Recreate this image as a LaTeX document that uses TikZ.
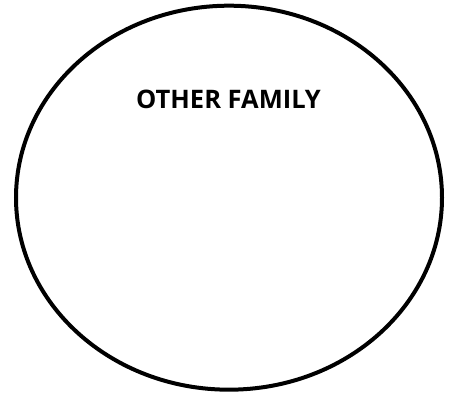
\documentclass[tikz,border=0pt]{standalone}
\usepackage{fontspec}
\setmainfont{Open Sans}
\usetikzlibrary{shapes.geometric}
\tikzset{ring/.style={draw=black,line width=4pt},
lbl/.style={font=\fontsize{25.5pt}{30pt}\selectfont\bfseries,inner sep=0pt}}
\begin{document}
\begin{tikzpicture}[x=1pt,y=1pt]
\useasboundingbox (0,0) rectangle (450,393);
\node[ring,ellipse,minimum width=426pt,minimum height=384pt,inner sep=0pt] (circ) at (229,195.3) {};
\node[lbl] (t) at (228.5,293.5) {OTHER FAMILY};
\end{tikzpicture}
\end{document}
